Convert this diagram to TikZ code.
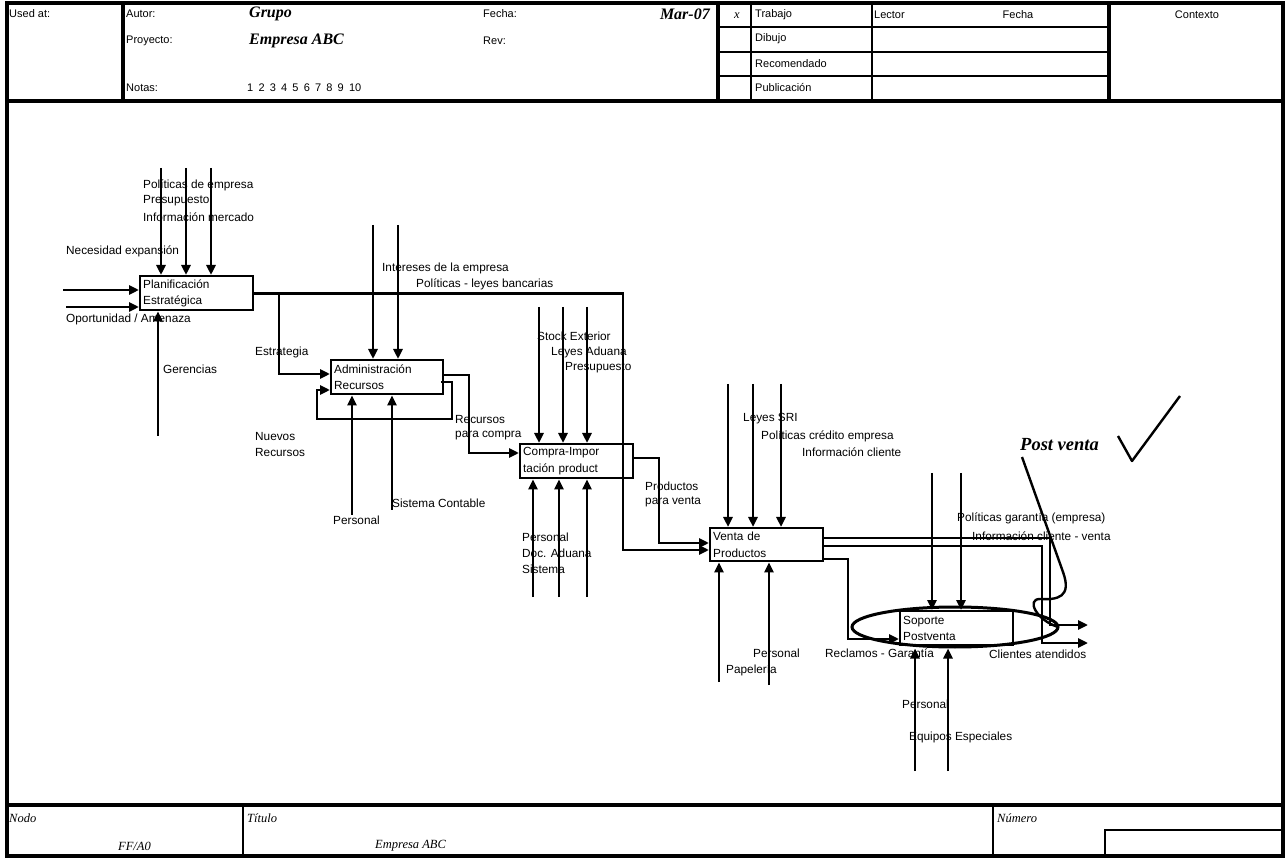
\documentclass[tikz,border=0pt]{standalone}
\usepackage{fontspec}
\setmainfont{Liberation Sans}
\newfontfamily\handfont{Liberation Serif}
\usetikzlibrary{arrows.meta,shapes.geometric}
\newcommand{\lblf}{\fontsize{11.8}{16.5}\selectfont}
\newcommand{\hdrf}{\fontsize{11}{13}\selectfont}
\newcommand{\handb}{\handfont\bfseries\itshape\fontsize{16}{18}\selectfont}
\newcommand{\handpv}{\handfont\bfseries\itshape\fontsize{18.5}{20}\selectfont}
\newcommand{\handi}{\handfont\itshape\fontsize{12.5}{14}\selectfont}
\tikzset{
  thickframe/.style={line width=3.4pt},
  midframe/.style={line width=2.4pt},
  box/.style={draw, line width=2.4pt, anchor=north west, align=left, inner xsep=3pt, inner ysep=0pt, font=\lblf},
  arr/.style={line width=2.7pt, -{Triangle[length=10pt,width=9pt]}},
  lbl/.style={anchor=west, inner sep=0pt, font=\lblf},
  hdr/.style={anchor=west, inner sep=0pt, font=\hdrf},
  handbold/.style={anchor=west, inner sep=0pt, font=\handb},
  handit/.style={anchor=west, inner sep=0pt, font=\handi},
}
\begin{document}
\begin{tikzpicture}[x=1pt,y=-1pt]
\useasboundingbox (0,0) rectangle (1286,858);
% ---------- frame ----------
\draw[thickframe] (7,3) rectangle (1283,856);
\draw[thickframe] (7,101) -- (1283,101);
\draw[thickframe] (123,3) -- (123,101);
\draw[thickframe] (718,3) -- (718,101);
\draw[midframe] (751,3) -- (751,101);
\draw[midframe] (872,3) -- (872,101);
\draw[thickframe] (1109,3) -- (1109,101);
\foreach \yy in {27,52,76} \draw[midframe] (718,\yy) -- (1109,\yy);
\draw[thickframe] (7,805) -- (1283,805);
\draw[midframe] (243,805) -- (243,856);
\draw[midframe] (993,805) -- (993,856);
\draw[midframe] (1105,856) -- (1105,830) -- (1283,830);
% ---------- header texts ----------
\node[hdr] (h1) at (9,14) {Used at:};
\node[hdr] (h2) at (126,14) {Autor:};
\node[hdr] (h3) at (126,41) {Proyecto:};
\node[hdr] (h4) at (126,88) {Notas:};
\node[hdr] (h5) at (247,88) {1\hspace{5.2pt}2\hspace{5.2pt}3\hspace{5.2pt}4\hspace{5.2pt}5\hspace{5.2pt}6\hspace{5.2pt}7\hspace{5.2pt}8\hspace{5.2pt}9\hspace{5.2pt}10};
\node[hdr] (h6) at (483,14) {Fecha:};
\node[hdr] (h7) at (483,41) {Rev:};
\node[hdr] (h8) at (755,15) {Trabajo};
\node[hdr] (h9) at (755,39) {Dibujo};
\node[hdr] (h10) at (755,64) {Recomendado};
\node[hdr] (h11) at (755,88) {Publicación};
\node[hdr] (h12) at (874,15) {Lector};
\node[hdr, anchor=center] (h13) at (1018,15) {Fecha};
\node[hdr, anchor=center] (h14) at (1197,15) {Contexto};
\node[handbold] (g1) at (249,14) {Grupo};
\node[handbold] (g2) at (249,41) {Empresa ABC};
\node[handbold, anchor=east] (g3) at (710,14) {Mar-07};
\node[handit, anchor=center] (g4) at (737,16) {x};
% ---------- footer texts ----------
\node[handit] (f1t) at (9,818) {Nodo};
\node[handit] (f2t) at (118,846) {FF/A0};
\node[handit] (f3t) at (247,818) {Título};
\node[handit] (f4t) at (375,846) {Empresa ABC};
\node[handit] (f5t) at (997,818) {Número};
% ---------- boxes ----------
\node[box, minimum width=113pt, minimum height=34pt, text width=107pt] (plan) at (139,275) {Planificación\\Estratégica};
\node[box, minimum width=112pt, minimum height=34pt, text width=106pt] (admin) at (330,359) {Administración\\Recursos};
\node[box, minimum width=113pt, minimum height=34pt, text width=107pt] (compra) at (519,443) {Compra-Impor\\tación product};
\node[box, minimum width=113pt, minimum height=33pt, text width=107pt] (venta) at (709,527) {Venta de\\Productos};
\node[box, minimum width=113pt, minimum height=34pt, text width=107pt] (sop) at (899,610) {Soporte\\Postventa};
\node[draw, ellipse, line width=3pt, minimum width=206pt, minimum height=40pt, inner sep=0pt] (ell) at (955,627) {};
% ---------- labels ----------
\node[lbl] (l1) at (143,185) {Políticas de empresa};
\node[lbl] (l2) at (143,201) {Presupuesto};
\node[lbl] (l3) at (143,217) {Información mercado};
\node[lbl] (l4) at (66,251) {Necesidad expansión};
\node[lbl] (l5) at (66,319) {Oportunidad / Amenaza};
\node[lbl] (l6) at (163,369) {Gerencias};
\node[lbl] (l7) at (255,352) {Estrategia};
\node[lbl] (l8) at (382,268) {Intereses de la empresa};
\node[lbl] (l9) at (416,284) {Políticas - leyes bancarias};
\node[lbl] (l10) at (255,436) {Nuevos};
\node[lbl] (l11) at (255,452) {Recursos};
\node[lbl] (l12) at (455,419) {Recursos};
\node[lbl] (l13) at (455,436) {para compra};
\node[lbl] (l14) at (333,520) {Personal};
\node[lbl] (l15) at (392,503) {Sistema Contable};
\node[lbl] (l16) at (537,336) {Stock Exterior};
\node[lbl] (l17) at (551,352) {Leyes Aduana};
\node[lbl] (l18) at (565,368) {Presupuesto};
\node[lbl] (l19) at (522,537) {Personal};
\node[lbl] (l20) at (522,553) {Doc. Aduana};
\node[lbl] (l21) at (522,569) {Sistema};
\node[lbl] (l22) at (645,486) {Productos};
\node[lbl] (l23) at (645,502) {para venta};
\node[lbl] (l24) at (743,419) {Leyes SRI};
\node[lbl] (l25) at (761,436) {Políticas crédito empresa};
\node[lbl] (l26) at (802,452) {Información cliente};
\node[lbl] (l27) at (753,653) {Personal};
\node[lbl] (l28) at (726,670) {Papelería};
\node[lbl] (l29) at (825,653) {Reclamos - Garantía};
\node[lbl] (l30) at (989,654) {Clientes atendidos};
\node[lbl] (l31) at (957,518) {Políticas garantía (empresa)};
\node[lbl] (l32) at (972,536) {Información cliente - venta};
\node[lbl] (l33) at (902,704) {Personal};
\node[lbl] (l34) at (909,737) {Equipos Especiales};
% ---------- Planificacion ----------
\coordinate (pin1) at (63,290);
\coordinate (pin2) at (66,307);
\draw[arr] (pin1) -- (pin1 -| plan.west);
\draw[arr] (pin2) -- (pin2 -| plan.west);
\foreach \xx [count=\i] in {161,186,211} {
  \coordinate (pc\i) at (\xx,168);
  \draw[arr] (pc\i) -- (pc\i |- plan.north);
}
\coordinate (pm) at (158,436);
\draw[arr] (pm) -- (pm |- plan.south);
\coordinate (v1) at (623,550);
\draw[arr] (plan.east) -| (v1) -- (v1 -| venta.west);
\coordinate (b1) at (279,374);
\draw[arr] (plan.east -| b1) -- (b1) -- (b1 -| admin.west);
% ---------- Administracion ----------
\foreach \xx [count=\i] in {373,398} {
  \coordinate (ac\i) at (\xx,225);
  \draw[arr] (ac\i) -- (ac\i |- admin.north);
}
\coordinate (am1) at (352,515);
\coordinate (am2) at (392,510);
\draw[arr] (am1) -- (am1 |- admin.south);
\draw[arr] (am2) -- (am2 |- admin.south);
\coordinate (a1) at (469,375);
\coordinate (a2) at (469,453);
\draw[arr] (admin.east |- a1) -- (a1) -- (a2) -- (a2 -| compra.west);
\coordinate (fb1) at (452,382);
\coordinate (fb2) at (317,419);
\coordinate (fb3) at (317,390);
\draw[arr] ([xshift=-3pt]admin.east |- fb1) -- (fb1) |- (fb2) -- (fb3) -- (fb3 -| admin.west);
% ---------- Compra ----------
\foreach \xx [count=\i] in {539,563,587} {
  \coordinate (cc\i) at (\xx,307);
  \draw[arr] (cc\i) -- (cc\i |- compra.north);
}
\foreach \xx [count=\i] in {533,559,587} {
  \coordinate (cm\i) at (\xx,597);
  \draw[arr] (cm\i) -- (cm\i |- compra.south);
}
\coordinate (k1) at (659,458);
\coordinate (k2) at (659,543);
\draw[arr] (compra.east |- k1) -- (k1) -- (k2) -- (k2 -| venta.west);
% ---------- Venta ----------
\foreach \xx [count=\i] in {728,753,781} {
  \coordinate (vc\i) at (\xx,384);
  \draw[arr] (vc\i) -- (vc\i |- venta.north);
}
\coordinate (vm1) at (719,682);
\coordinate (vm2) at (769,685);
\draw[arr] (vm1) -- (vm1 |- venta.south);
\draw[arr] (vm2) -- (vm2 |- venta.south);
\coordinate (o1a) at (1050,538);
\coordinate (o1b) at (1050,625);
\coordinate (o1c) at (1088,625);
\draw[arr] (o1a -| venta.east) -- (o1a) -- (o1b) -- (o1c);
\coordinate (o2a) at (1042,546);
\coordinate (o2b) at (1042,643);
\coordinate (o2c) at (1088,643);
\draw[arr] (o2a -| venta.east) -- (o2a) -- (o2b) -- (o2c);
\coordinate (o3a) at (848,559);
\coordinate (o3b) at (848,639);
\draw[arr] (o3a -| venta.east) -- (o3a) -- (o3b) -- (o3b -| sop.west);
% ---------- Soporte ----------
\foreach \xx [count=\i] in {932,961} {
  \coordinate (sc\i) at (\xx,473);
  \draw[arr] (sc\i) -- (sc\i |- sop.north);
}
\foreach \xx [count=\i] in {915,948} {
  \coordinate (sm\i) at (\xx,771);
  \draw[arr] (sm\i) -- (sm\i |- ell.south);
}
% ---------- Post venta note ----------
\node[anchor=west, inner sep=0pt, font=\handpv] (pv) at (1020,445) {Post venta};
\coordinate (ck1) at (1118,436);
\coordinate (ck2) at (1132,461);
\coordinate (ck3) at (1180,396);
\draw[line width=2.4pt, line join=round] (ck1) -- (ck2) -- (ck3);
\coordinate (cv0) at (1022,457);
\coordinate (cv1) at (1063,572);
\coordinate (cv2) at (1040,599);
\coordinate (cv3) at (1058,627);
\draw[line width=2.4pt] (cv0) -- (cv1) .. controls (1072,597) and (1058,600) .. (cv2) .. controls (1026,599) and (1036,620) .. (cv3);
\end{tikzpicture}
\end{document}
